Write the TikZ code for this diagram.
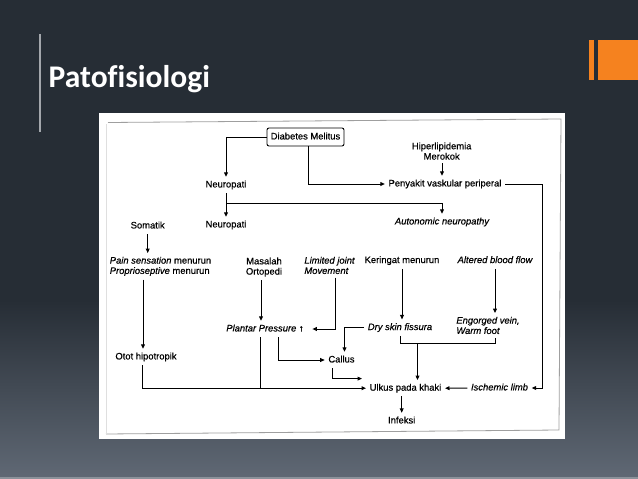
\documentclass[tikz,border=0pt]{standalone}
\usepackage{fontspec}
\setmainfont{Liberation Sans}[FakeBold=0.4]
\newfontfamily\titlefont{Carlito}[Ligatures=NoCommon]
\usetikzlibrary{arrows.meta,calc}
\definecolor{bgdark}{HTML}{262D35}
\definecolor{bglight}{HTML}{5F6874}
\definecolor{bgstrip}{HTML}{8B929A}
\definecolor{slideorange}{HTML}{F5821F}
\definecolor{rulegray}{HTML}{A3A7AC}
\tikzset{
  lblbase/.style={inner sep=3.5pt, font=\fontsize{9.4}{10.3}\selectfont, align=center},
  lbl/.style={lblbase, text height=6.9pt, text depth=2pt},
  lbli/.style={lbl, font=\fontsize{9.4}{10.3}\selectfont\itshape},
  mlbl/.style={lblbase, anchor=north},
  mlbli/.style={mlbl, font=\fontsize{9.4}{10.3}\selectfont\itshape},
  lnk/.style={line width=1pt, black},
  arr/.style={lnk, -{Triangle[length=4.5pt,width=3.8pt]}},
}
\begin{document}
\begin{tikzpicture}[x=1pt,y=-1pt]
\useasboundingbox (0,0) rectangle (638,479);
% background
\fill[bgdark] (0,0) rectangle (638,479);
\shade[top color=bgdark, bottom color=bglight] (0,300) rectangle (638,476.5);
\fill[bgstrip] (0,476.5) rectangle (638,479);
% slide decorations
\draw[rulegray, line width=1.6pt] (40,34) -- (40,132);
\fill[slideorange] (588.7,40) rectangle (594,80);
\fill[slideorange] (598,40) rectangle (638,80);
\node[anchor=base west, inner sep=0, text=white, font=\titlefont\bfseries\fontsize{31.5}{31.5}\selectfont] (title) at (48.5,87.5) {Patofisiologi};
% white panel
\fill[white] (99,113) rectangle (565,439);
\draw[gray!75, line width=0.8pt] (108,122.5) -- (561,119) -- (559,430) -- (106,434);
\draw[gray!25, line width=0.6pt] (106,124) -- (106,434);
% nodes
\node[lbl, draw, line width=0.9pt, rounded corners=2pt, minimum width=77pt, minimum height=18pt, inner sep=2pt] (dm) at (305.5,137) {Diabetes Melitus};
\node[mlbl] (hip) at (441.7,138.8) {Hiperlipidemia\\Merokok};
\node[lbl] (pvp) at (445,184) {Penyakit vaskular periperal};
\node[lbl] (neu1) at (226,185) {Neuropati};
\node[lbl] (neu2) at (226,225) {Neuropati};
\node[lbli] (auto) at (442,222) {Autonomic neuropathy};
\node[lbl] (som) at (147.7,226) {Somatik};
\node[mlbl, align=left] (pain) at (160.5,253.1) {\textit{Pain sensation} menurun\\\textit{Proprioseptive} menurun};
\node[mlbl] (mas) at (264,253.8) {Masalah\\Ortopedi};
\node[mlbli, align=left] (lim) at (329.5,253.1) {Limited joint\\Movement};
\node[lbl] (ker) at (402,260.6) {Keringat menurun};
\node[lbli] (alt) at (495,260.6) {Altered blood flow};
\node[lbl] (pp) at (265,329) {\textit{Plantar Pressure} ↑};
\node[lbli] (dry) at (400,327.6) {Dry skin fissura};
\node[mlbli, align=left] (eng) at (488,313.1) {Engorged vein,\\Warm foot};
\node[lbl] (otot) at (146,357) {Otot hipotropik};
\node[lbl] (cal) at (341.5,360) {Callus};
\node[lbl] (ulk) at (405.5,388.2) {Ulkus pada khaki};
\node[lbli] (isc) at (499.5,388) {Ischemic limb};
\node[lbl] (inf) at (401.7,421) {Infeksi};
% connectors
\draw[arr] (dm.west) -| (neu1.north);
\draw[arr] (neu1.south) -- (neu2.north);
\path ($(neu1.south)!0.45!(neu2.north)$) coordinate (nb);
\draw[arr] (nb) -| (auto.north);
\draw[arr] ([xshift=3pt]dm.south) |- (pvp.west);
\draw[arr] ([xshift=-3pt]pvp.north |- hip.south) -- ([xshift=-3pt]pvp.north);
\draw[lnk] (pvp.east) -- ++(37,0) coordinate (rc);
\draw[arr] (rc) |- (isc.east);
\draw[arr] (som.south) -- (som.south |- pain.north);
\draw[arr] ([xshift=-3pt]otot.north |- pain.south) -- ([xshift=-3pt]otot.north);
\draw[arr] ([xshift=-4pt]otot.south) |- (ulk.west);
\draw[lnk] ([xshift=-5pt]pp.south) -- ([xshift=-5pt]pp.south |- ulk.west);
\draw[arr] ([xshift=-3pt]mas.south) -- ([xshift=-3pt]mas.south |- pp.north);
\draw[arr] ([xshift=5.5pt]lim.south) |- ([xshift=5pt]pp.east);
\draw[arr] ([xshift=13pt]pp.south) |- (cal.west);
\draw[arr] (dry.west) -| ([xshift=3pt]cal.north);
\draw[arr] ([xshift=-9pt]cal.south) |- ([xshift=-4pt,yshift=9.6pt]ulk.west);
\draw[arr] (ker.south) -- (ker.south |- dry.north);
\draw[arr] (alt.south) -- (alt.south |- eng.north);
\path (dry.south) ++(0,7.5) coordinate (bk);
\draw[lnk] (dry.south) -- (bk) -| (alt.south |- eng.south);
\draw[arr] ([xshift=12pt]ulk.north |- bk) -- ([xshift=12pt]ulk.north);
\draw[arr] (isc.west) -- (ulk.east);
\draw[arr] (inf.north |- ulk.south) -- (inf.north);
\end{tikzpicture}
\end{document}
